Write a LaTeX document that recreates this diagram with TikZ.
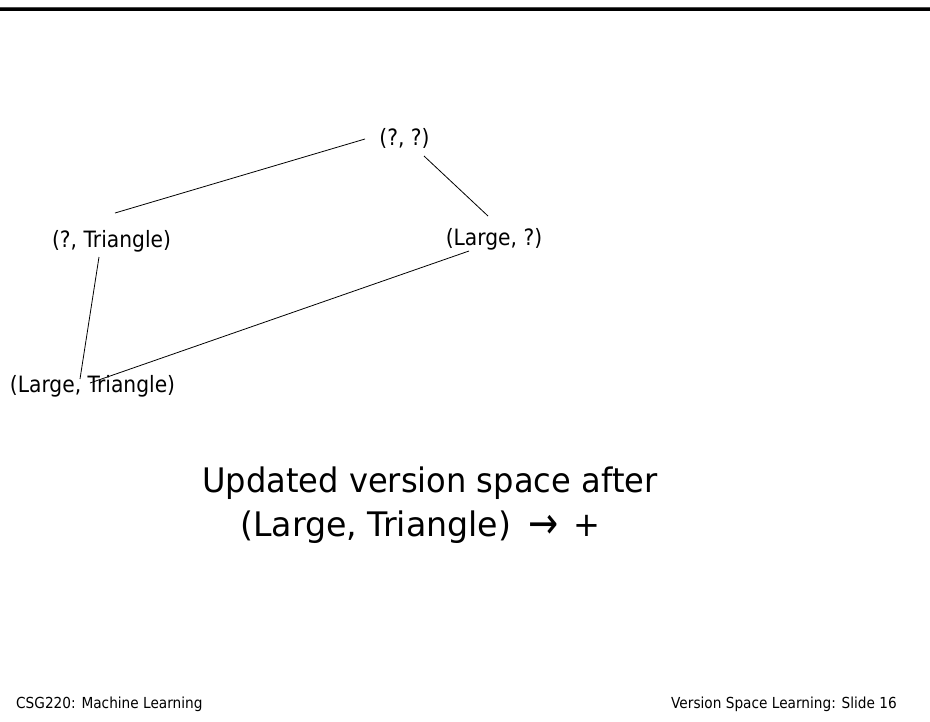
\documentclass[tikz,border=0pt]{standalone}
\usepackage{graphicx}
\usepackage{fontspec}
\setmainfont{DejaVu Sans}[Ligatures=NoCommon]
\newfontfamily\tahn{DejaVu Sans}[FakeStretch=0.9,Ligatures=NoCommon]
\newfontfamily\tahw{DejaVu Sans}[FakeStretch=0.95,Ligatures=NoCommon]
\usetikzlibrary{calc}
\tikzset{
  lbl/.style={inner sep=0pt, anchor=base, font=\tahn\fontsize{22.5}{27}\selectfont},
  ttl/.style={inner sep=0pt, anchor=base west, font=\tahw\fontsize{33.8}{40}\selectfont},
  foot/.style={inner sep=0pt, font=\tahn\fontsize{15.2}{18}\selectfont},
  edge/.style={draw=black, line width=0.8pt}
}
\begin{document}
\begin{tikzpicture}[x=1pt,y=-1pt]
\useasboundingbox (0,0) rectangle (930,721);
\fill[white] (0,0) rectangle (930,721);
% top rule
\fill[black!70] (0,7) rectangle (930,8);
\fill[black] (0,8) rectangle (930,10.5);
% nodes
\node[lbl] (QQ) at (404.5,145) {(?, ?)};
\node[lbl] (QT) at (111.5,247) {(?, Triangle)};
\node[lbl] (LQ) at (494,245) {(Large, ?)};
\node[lbl] (LT) at (92.5,392) {(Large, Triangle)};
% connectors
\draw[edge] ($(QQ.base)+(-39.5,-6)$) -- ($(QT.base)+(3.5,-34)$);
\draw[edge] ($(QQ.base)+(19.5,11)$) -- ($(LQ.base)+(-6,-29)$);
\draw[edge] ($(QT.base)+(-12.5,10)$) -- ($(LT.base)+(-12.5,-13)$);
\draw[edge] ($(LQ.base)+(-25,6)$) -- ($(LT.base)+(-2.5,-9)$);
% title
\node[ttl] (t1) at (202,492) {Updated version space af\kern0pt ter};
\node[ttl] (t2) at (240,536) {\scalebox{1.035}[1]{(Large, Triangle)}\hspace{0.5em}\raisebox{-2pt}{\scalebox{1.12}[1.3]{→}}\hspace{0.45em}+};
% footer
\node[foot, anchor=base west] (fl) at (16,708) {CSG220: Machine Learning};
\node[foot, anchor=base east] (fr) at (897,708) {Version Space Learning: Slide 16};
\end{tikzpicture}
\end{document}
